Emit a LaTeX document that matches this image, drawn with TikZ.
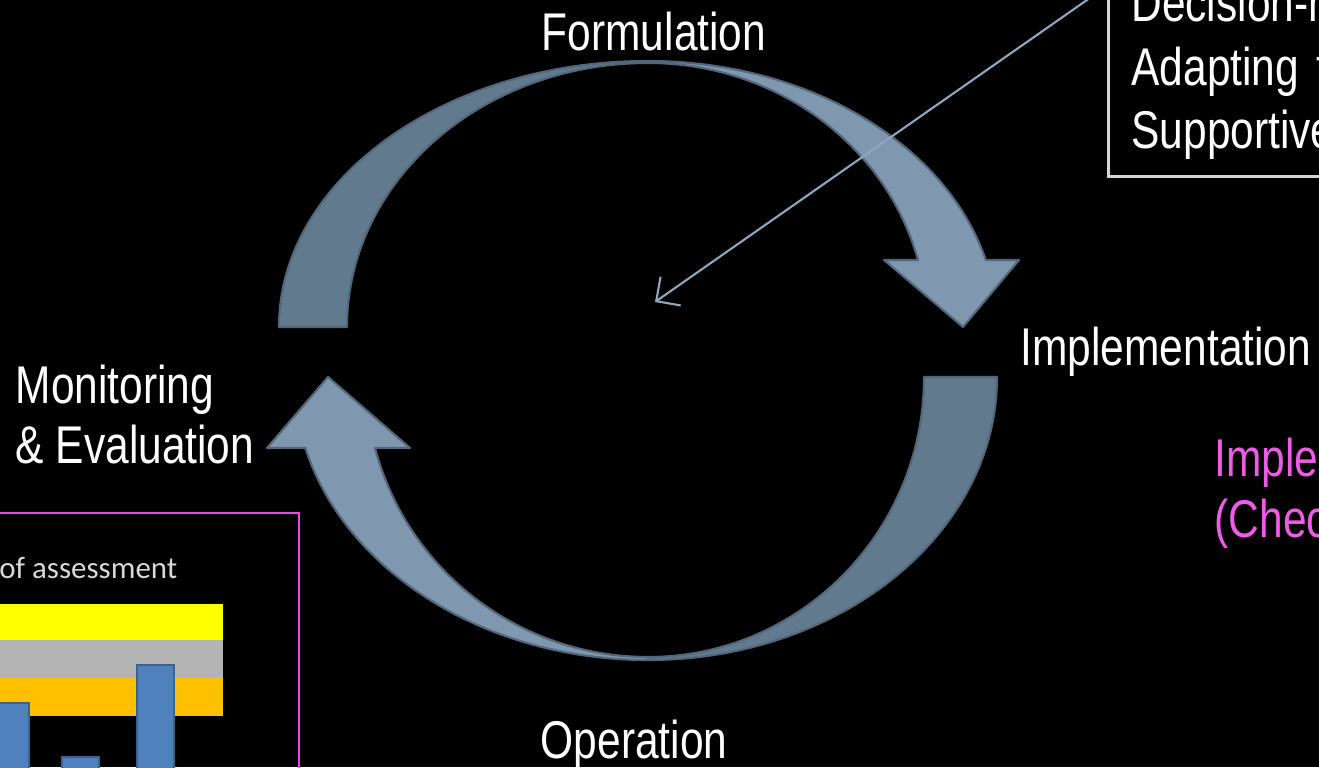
\documentclass[tikz,border=0pt]{standalone}
\usepackage{fontspec}
\setmainfont{Liberation Sans}[FakeStretch=0.8]
\newfontfamily\chartfont{Carlito}
\usetikzlibrary{positioning,arrows.meta}

\definecolor{arcdark}{HTML}{627A8E}
\definecolor{arclight}{HTML}{7F98AF}
\definecolor{arcedge}{HTML}{52677A}
\definecolor{pinline}{HTML}{8DA7BF}
\definecolor{boxline}{HTML}{D4D4D4}
\definecolor{pink}{HTML}{EE5CE6}
\definecolor{boxpink}{HTML}{E14BE0}
\definecolor{band1}{HTML}{FFFF00}
\definecolor{band2}{HTML}{B4B4B4}
\definecolor{band3}{HTML}{FFC000}
\definecolor{bar}{HTML}{4F81BD}
\definecolor{baredge}{HTML}{3A6490}
\definecolor{chartgray}{HTML}{D8D8D8}

\begin{document}
\begin{tikzpicture}[x=0.01cm, y=-0.01cm, >={Straight Barb[length=5pt,width=10pt]},
		lbl/.style={text=white, inner sep=0pt, font=\fontsize{15.1}{17}\selectfont},
		hint/.style={lbl, text=pink},
		back/.style={fill=arcdark, draw=arcedge, line width=0.6pt, line join=round},
		front/.style={fill=arclight, draw=arcedge, line width=0.6pt, line join=round},
		col/.style={fill=bar, draw=baredge, line width=0.6pt}]
		\useasboundingbox (0,0) rectangle (1319,767);
		\clip (0,0) rectangle (1319,767);
		\fill[black] (0,0) rectangle (1319,767);

		% upper arrow
		\path[back] (279,327) arc[start angle=180, end angle=270, x radius=369, y radius=266]
			-- (648,63) arc[start angle=270, end angle=180, x radius=301, y radius=264] -- cycle;
		\path[front] (648,61) arc[start angle=270, end angle=345.4, x radius=349, y radius=266]
			-- (1019,260) -- (963,327) -- (884,260) -- (918,260)
			arc[start angle=345.3, end angle=270, x radius=279, y radius=264] -- cycle;

		% lower arrow
		\path[back] (997,377) arc[start angle=0, end angle=90, x radius=349, y radius=283]
			-- (648,657) arc[start angle=90, end angle=0, x radius=276, y radius=280] -- cycle;
		\path[front] (648,660) arc[start angle=90, end angle=165.5, x radius=354, y radius=283]
			-- (267,448) -- (328,377) -- (410,448) -- (375,448)
			arc[start angle=165.3, end angle=90, x radius=282, y radius=280] -- cycle;

		\node [lbl, anchor=base] (F) at (654,51) {Formulation};
		\node [lbl, anchor=base west] (I) at (1020,365) {Implementation};
		\node [lbl, anchor=base] (O) at (634,758) {Operation};
		\node [lbl, anchor=base west] (M) at (15,403) {Monitoring};
		\node [lbl, anchor=base west] (E) at (15,463) {\& Evaluation};

		\node [lbl, font=\fontsize{15.1}{18}\selectfont, draw=boxline, line width=0.8pt, align=left,
			text width=6cm, inner xsep=0.23cm, inner ysep=0.17cm, anchor=south west] (K) at (1107,178)
			{Decision-making\\Adapting to\\Supportive};
		\coordinate (tail) at (1107,-14);
		\coordinate (hub) at (655,302);
		\draw[->, pinline, line width=0.6pt] (tail) -- (hub);

		\node [hint, anchor=base west] (C1) at (1214,476) {Implementation};
		\node [hint, anchor=base west] (C2) at (1214,537) {(Checking};

		% chart panel
		\fill[band1] (-10,604) rectangle (223,640);
		\fill[band2] (-10,640) rectangle (223,678);
		\fill[band3] (-10,678) rectangle (223,716);
		\draw[col] (-10,703) rectangle (29,790);
		\draw[col] (62,757) rectangle (99,790);
		\draw[col] (137,665) rectangle (174,790);
		\node [anchor=base east, inner sep=0pt, text=chartgray, font=\chartfont\fontsize{8.8}{10}\selectfont] (R) at (178,578) {Results of assessment};
		\draw[boxpink, line width=0.8pt] (-10,513) rectangle (299,790);
	\end{tikzpicture}
\end{document}
